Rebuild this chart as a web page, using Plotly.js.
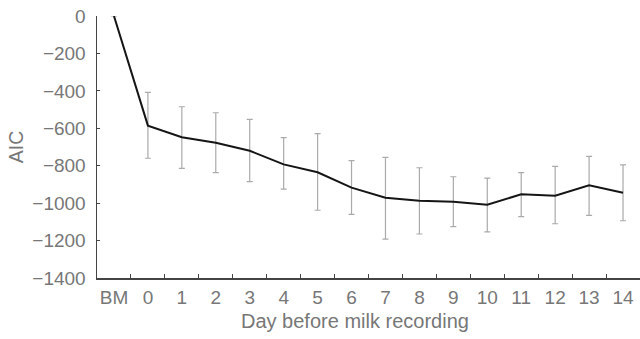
<!DOCTYPE html>
<html>
<head>
<meta charset="utf-8">
<script src="https://cdn.plot.ly/plotly-3.0.1.min.js"></script>
<style>html,body{margin:0;padding:0;background:#fff;}#chart{width:640px;height:339px;}</style>
</head>
<body>
<div id="chart"></div>
<script>
const categories = ["BM","0","1","2","3","4","5","6","7","8","9","10","11","12","13","14"];
const aic = [0,-586,-648,-677,-720,-793,-835,-917,-971,-987,-992,-1008,-953,-960,-905,-944];
const errUp = [0,178,163,160,168,143,206,144,216,176,133,142,116,157,155,149];
const errDown = [0,174,166,160,165,132,203,143,221,178,134,145,119,150,160,150];
const yTicks = [0,-200,-400,-600,-800,-1000,-1200,-1400];
const xTitle = "Day before milk recording";
const yTitle = "AIC";

const font = "Liberation Sans, Arial, sans-serif";
const textColor = "#777777";
const axisColor = "#444444";

const trace = {
  x: categories, y: aic, type: "scatter", mode: "lines",
  line: {color: "#151515", width: 2},
  error_y: {type: "data", symmetric: false, array: errUp, arrayminus: errDown,
            color: "#aaaaaa", thickness: 1.2, width: 3},
  cliponaxis: false, hoverinfo: "x+y"
};

const layout = {
  width: 640, height: 339,
  margin: {l: 97, r: 0, t: 16, b: 61},
  paper_bgcolor: "#fff", plot_bgcolor: "#fff",
  showlegend: false,
  font: {family: font, size: 19, color: textColor},
  xaxis: {
    type: "category", range: [-0.5, 15.5],
    showline: true, linecolor: axisColor, linewidth: 1.5,
    ticks: "inside", tickson: "boundaries", ticklen: 4, tickcolor: axisColor,
    tickangle: 0, ticklabelstandoff: 2,
    showgrid: false, zeroline: false,
    tickfont: {family: font, size: 19, color: textColor},
    title: {text: ""}
  },
  yaxis: {
    range: [-1400, 0], tickvals: yTicks,
    showline: true, linecolor: axisColor, linewidth: 1.5,
    ticks: "inside", ticklen: 3, tickcolor: axisColor,
    ticklabelstandoff: 6,
    showgrid: false, zeroline: false,
    tickfont: {family: font, size: 19, color: textColor},
    title: {text: yTitle, font: {family: font, size: 19.5, color: textColor}, standoff: 3}
  },
  annotations: [{
    text: xTitle, xref: "paper", yref: "paper", x: (355-97)/543, y: 0,
    yshift: -43, xanchor: "center", yanchor: "middle", showarrow: false,
    font: {family: font, size: 20, color: textColor}
  }]
};

Plotly.newPlot("chart", [trace], layout, {staticPlot: true, displayModeBar: false});
</script>
</body>
</html>
